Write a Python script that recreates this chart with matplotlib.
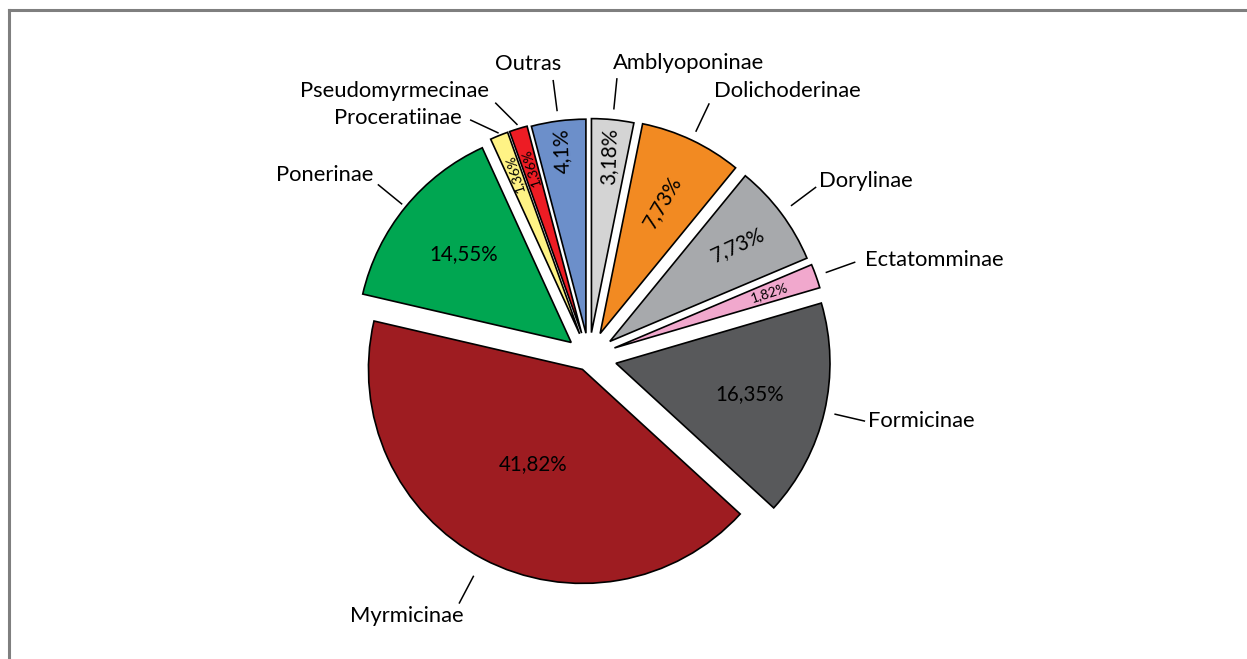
import matplotlib.pyplot as plt
import numpy as np
from matplotlib.lines import Line2D

plt.rcParams['font.family'] = ['Lato', 'DejaVu Sans']

# data (clockwise from 12 o'clock)
subfamilies = ['Amblyoponinae', 'Dolichoderinae', 'Dorylinae', 'Ectatomminae', 'Formicinae',
               'Myrmicinae', 'Ponerinae', 'Proceratiinae', 'Pseudomyrmecinae', 'Outras']
percentages = [3.18, 7.73, 7.73, 1.82, 16.35, 41.82, 14.55, 1.36, 1.36, 4.1]
colors = ['#d4d4d4', '#f28a22', '#a7a9ac', '#f1a8cd', '#58595b',
          '#9e1c21', '#00a651', '#fff385', '#ed1c24', '#6c8fca']

# layout (pixel units, image y measured from top)
W, H = 1247, 659
R = 214
center = (589, H - 357)
# explode offsets (pie uses absolute data units -> pixels here)
explode = [24.5, 26, 26, 27, 27.7, 14, 23, 25, 25, 24]
pct_frac = [0.83, 0.68, 0.75, 0.77, 0.64, 0.5, 0.65, 0.81, 0.81, 0.86]
pct_rot = [88, 60, 25, 18, 0, 0, 0, 107, 107, 92]
pct_size = [14.8, 14.8, 14.8, 10, 14.8, 14.8, 14.8, 10, 10, 14.8]
leader_gap = [11, 10, 13, 11, 11, 20, 5, 3, 4.5, 10.6]
leader_dir = [None, None, None, None, None, None, None, 155, 135, None]
label_pos = [(689, 69), (787, 97), (866, 187), (934, 266), (921, 427),
             (407, 622), (325, 181), (398, 124), (395, 97), (528, 70)]

fig = plt.figure(figsize=(W / 100, H / 100), dpi=100)
ax = fig.add_axes([0, 0, 1, 1])

wedges, _ = ax.pie(percentages, colors=colors, explode=explode, startangle=90,
                   counterclock=False, center=center, radius=R,
                   wedgeprops=dict(edgecolor='black', linewidth=1.2))

for i, w in enumerate(wedges):
    mid = np.deg2rad((w.theta1 + w.theta2) / 2)
    cx, cy = w.center
    # percentage inside slice
    txt = f'{percentages[i]}%'.replace('.', ',')
    ax.text(cx + pct_frac[i] * R * np.cos(mid), cy + pct_frac[i] * R * np.sin(mid), txt,
            rotation=pct_rot[i], rotation_mode='anchor', ha='center', va='center',
            fontsize=pct_size[i], color='black')
    # leader line
    x0 = cx + (R + leader_gap[i]) * np.cos(mid)
    y0 = cy + (R + leader_gap[i]) * np.sin(mid)
    a = mid if leader_dir[i] is None else np.deg2rad(leader_dir[i])
    ax.plot([x0, x0 + 30 * np.cos(a)], [y0, y0 + 30 * np.sin(a)], color='black', lw=1.1)
    # name label
    lx, ly = label_pos[i]
    ax.text(lx, H - ly, subfamilies[i], ha='center', va='baseline', fontsize=15.8, color='black')

ax.set_xlim(0, W)
ax.set_ylim(0, H)
ax.set_aspect('equal')
ax.axis('off')

# frame (only top and left visible)
fig.add_artist(Line2D([8.8 / W, 8.8 / W], [0, (H - 9.8) / H], transform=fig.transFigure,
                      color='#7f7f7f', lw=2.2))
fig.add_artist(Line2D([8.8 / W, 1], [(H - 9.8) / H, (H - 9.8) / H], transform=fig.transFigure,
                      color='#7f7f7f', lw=2.2))

fig.savefig('out.png', dpi=100)
